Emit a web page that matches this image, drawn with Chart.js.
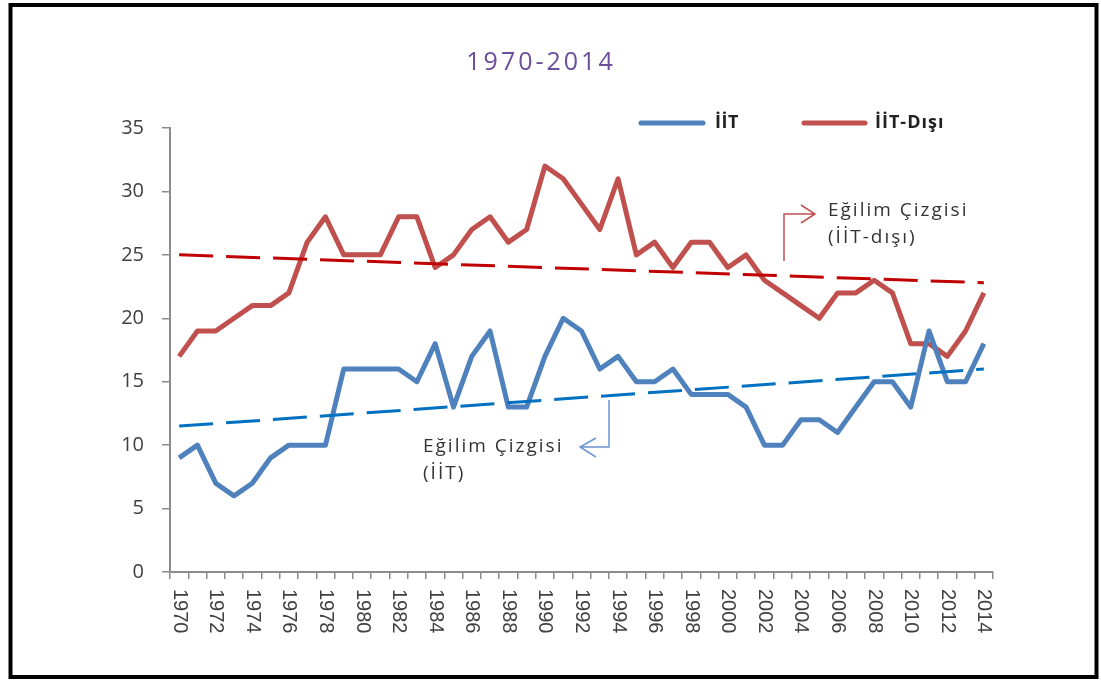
<!DOCTYPE html>
<html>
<head>
<meta charset="utf-8">
<script src="https://cdn.jsdelivr.net/npm/chart.js@4.4.1/dist/chart.umd.min.js"></script>
<style>
  html, body { margin: 0; padding: 0; background: #fff; }
  #wrap { width: 1101px; height: 680px; }
</style>
</head>
<body>
<div id="wrap"><canvas id="chart" width="1101" height="680"></canvas></div>
<script>
const years = ["1970","1971","1972","1973","1974","1975","1976","1977","1978","1979",
  "1980","1981","1982","1983","1984","1985","1986","1987","1988","1989",
  "1990","1991","1992","1993","1994","1995","1996","1997","1998","1999",
  "2000","2001","2002","2003","2004","2005","2006","2007","2008","2009",
  "2010","2011","2012","2013","2014"];

const iit = [9,10,7,6,7,9,10,10,10,16,
  16,16,16,15,18,13,17,19,13,13,
  17,20,19,16,17,15,15,16,14,14,
  14,13,10,10,12,12,11,13,15,15,
  13,19,15,15,18];

const iitDisi = [17,19,19,20,21,21,22,26,28,25,
  25,25,28,28,24,25,27,28,26,27,
  32,31,29,27,31,25,26,24,26,26,
  24,25,23,22,21,20,22,22,23,22,
  18,18,17,19,22];

// trend line values read at 1970 and 2014
const trendIIT = [11.5, 16.0];
const trendDisi = [25.0, 22.8];

const yTicks = [0, 5, 10, 15, 20, 25, 30, 35];

function endsOnly(pair) {
  const arr = years.map(() => null);
  arr[0] = pair[0];
  arr[arr.length - 1] = pair[1];
  return arr;
}

const BLUE = "#4F81BD";
const RED = "#C0504D";
const AXIS = "#8C8C8C";
const TEXT = "#404040";

function spacedText(ctx, txt, x, y, spacing) {
  ctx.letterSpacing = spacing + "px";
  ctx.fillText(txt, x, y);
  ctx.letterSpacing = "0px";
}

const decor = {
  id: "decor",
  afterDraw(chart) {
    const ctx = chart.ctx;
    const xs = chart.scales.x;
    ctx.save();

    // frame
    ctx.strokeStyle = "#000";
    ctx.lineWidth = 4;
    ctx.strokeRect(10.5, 5, 1086, 672);

    // title
    ctx.fillStyle = "#6B4E9B";
    ctx.font = "25px 'Open Sans'";
    ctx.textAlign = "center";
    ctx.textBaseline = "middle";
    spacedText(ctx, "1970-2014", 541, 63, 3);

    // x labels, rotated clockwise
    ctx.fillStyle = TEXT;
    ctx.font = "20px 'Liberation Sans'";
    ctx.textAlign = "left";
    ctx.textBaseline = "middle";
    years.forEach((y, i) => {
      if (i % 2 !== 0) return;
      const px = xs.getPixelForValue(i);
      ctx.save();
      ctx.translate(px, 589);
      ctx.rotate(Math.PI / 2);
      ctx.fillText(y, 0, 0);
      ctx.restore();
    });

    // legend
    ctx.lineCap = "round";
    ctx.lineWidth = 5;
    ctx.strokeStyle = BLUE;
    ctx.beginPath(); ctx.moveTo(641, 123); ctx.lineTo(703, 123); ctx.stroke();
    ctx.strokeStyle = RED;
    ctx.beginPath(); ctx.moveTo(804, 123); ctx.lineTo(865, 123); ctx.stroke();
    ctx.fillStyle = "#222";
    ctx.font = "bold 18px 'Open Sans'";
    ctx.textAlign = "left";
    ctx.textBaseline = "middle";
    spacedText(ctx, "İİT", 715, 123, 0.5);
    spacedText(ctx, "İİT-Dışı", 875, 123, 1);

    // annotations
    ctx.font = "19px 'Open Sans'";
    ctx.fillStyle = "#333";
    spacedText(ctx, "Eğilim Çizgisi", 828, 211, 2);
    spacedText(ctx, "(İİT-dışı)", 828, 238, 2);
    spacedText(ctx, "Eğilim Çizgisi", 423, 447, 2);
    spacedText(ctx, "(İİT)", 423, 474, 2);

    ctx.lineCap = "butt";
    ctx.lineWidth = 1.5;
    ctx.strokeStyle = RED;
    ctx.beginPath();
    ctx.moveTo(784, 261); ctx.lineTo(784, 214); ctx.lineTo(815, 214);
    ctx.moveTo(801, 205); ctx.lineTo(815, 214); ctx.lineTo(801, 223);
    ctx.stroke();

    ctx.strokeStyle = "#6C97CF";
    ctx.beginPath();
    ctx.moveTo(609, 400); ctx.lineTo(609, 447); ctx.lineTo(580, 447);
    ctx.moveTo(596, 438); ctx.lineTo(580, 447); ctx.lineTo(596, 457);
    ctx.stroke();

    ctx.restore();
  }
};

new Chart(document.getElementById("chart").getContext("2d"), {
  type: "line",
  data: {
    labels: years,
    datasets: [
      {
        label: "Eğilim Çizgisi (İİT-dışı)",
        data: endsOnly(trendDisi),
        borderColor: "#C00000",
        borderWidth: 3,
        borderDash: [34, 13],
        spanGaps: true,
        pointRadius: 0,
        order: 0
      },
      {
        label: "Eğilim Çizgisi (İİT)",
        data: endsOnly(trendIIT),
        borderColor: "#0070C0",
        borderWidth: 3,
        borderDash: [34, 13],
        spanGaps: true,
        pointRadius: 0,
        order: 0
      },
      {
        label: "İİT",
        data: iit,
        borderColor: BLUE,
        borderWidth: 5,
        borderJoinStyle: "round",
        pointRadius: 0,
        tension: 0,
        order: 1
      },
      {
        label: "İİT-Dışı",
        data: iitDisi,
        borderColor: RED,
        borderWidth: 5,
        borderJoinStyle: "round",
        pointRadius: 0,
        tension: 0,
        order: 1
      }
    ]
  },
  options: {
    responsive: false,
    animation: false,
    devicePixelRatio: 1,
    layout: { padding: { top: 128, right: 108, bottom: 0, left: 0 } },
    plugins: {
      legend: { display: false },
      title: { display: false },
      tooltip: { enabled: false }
    },
    scales: {
      x: {
        type: "category",
        offset: true,
        grid: { display: true, offset: true, drawOnChartArea: false, drawTicks: true, tickLength: 7, color: AXIS, lineWidth: 1.5 },
        border: { display: true, color: AXIS, width: 2 },
        ticks: { display: false, autoSkip: false },
        afterFit(scale) { scale.height = 108; }
      },
      y: {
        min: 0,
        max: 35,
        afterBuildTicks(scale) { scale.ticks = yTicks.map(v => ({ value: v })); },
        grid: { display: true, drawOnChartArea: false, drawTicks: true, tickLength: 8, color: AXIS, lineWidth: 1.5 },
        border: { display: true, color: AXIS, width: 2 },
        ticks: { color: TEXT, font: { family: "Open Sans", size: 20 }, padding: 18 },
        afterFit(scale) { scale.width = 170; }
      }
    }
  },
  plugins: [decor]
});
</script>
</body>
</html>
